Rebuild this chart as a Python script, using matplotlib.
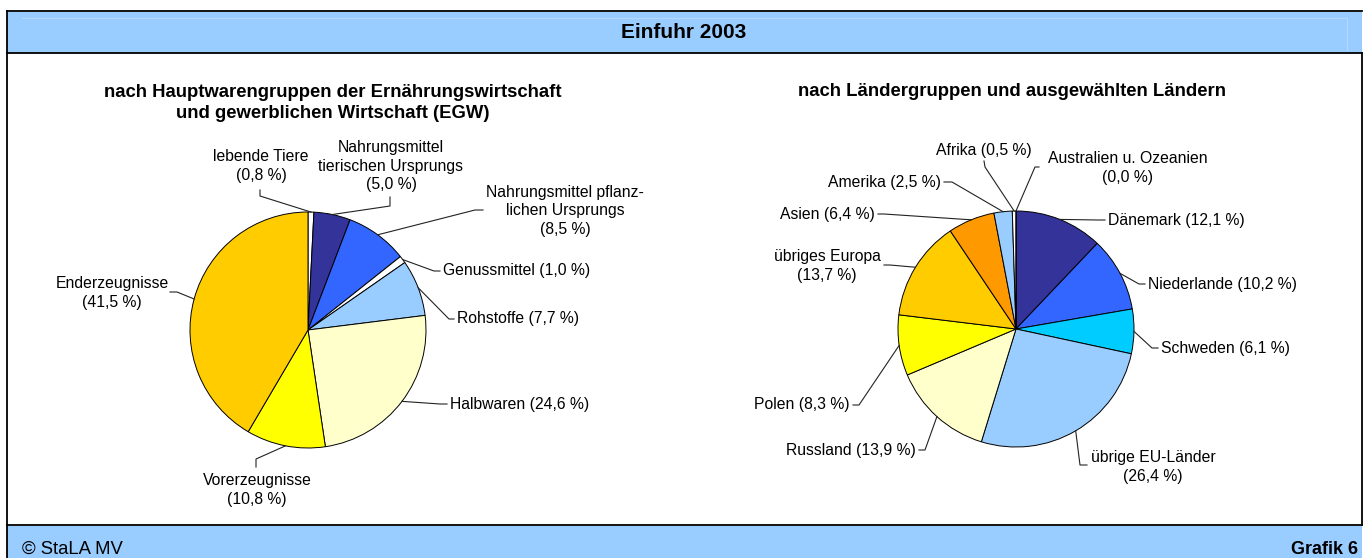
import numpy as np
import matplotlib.pyplot as plt
from matplotlib.patches import Rectangle

plt.rcParams['font.family'] = ['Liberation Sans', 'DejaVu Sans']

W, H = 1366, 558

# linke Grafik: Hauptwarengruppen der EGW
waren_namen = ['lebende Tiere\n', 'Nahrungsmittel\ntierischen Ursprungs\n',
               'Nahrungsmittel pflanz-\nlichen Ursprungs\n', 'Genussmittel ',
               'Rohstoffe ', 'Halbwaren ', 'Vorerzeugnisse\n', 'Enderzeugnisse\n']
waren_werte = [0.8, 5.0, 8.5, 1.0, 7.7, 24.6, 10.8, 41.5]
waren_farben = ['#FFFFFF', '#333399', '#3366FF', '#FFFFFF',
                '#99CCFF', '#FFFFCC', '#FFFF00', '#FFCC00']

# rechte Grafik: Ländergruppen und ausgewählte Länder
laender_namen = ['Dänemark ', 'Niederlande ', 'Schweden ', 'übrige EU-Länder\n',
                 'Russland ', 'Polen ', 'übriges Europa\n', 'Asien ', 'Amerika ',
                 'Afrika ', 'Australien u. Ozeanien\n']
laender_werte = [12.1, 10.2, 6.1, 26.4, 13.9, 8.3, 13.7, 6.4, 2.5, 0.5, 0.0]
laender_farben = ['#333399', '#3366FF', '#00CCFF', '#99CCFF', '#FFFFCC', '#FFFF00',
                  '#FFCC00', '#FF9900', '#99CCFF', '#FFFFFF', '#FFFFFF']

# Beschriftung: Textposition, Ausrichtung, Ende der Führungslinie, Knick
waren_pos = [((261, 166), 'center', (260, 190), (260, 196)),
             ((391, 166), 'center', (390, 197), (390, 206)),
             ((565, 211), 'center', (483, 210), (475, 210)),
             ((443, 271), 'left', (440, 271), (434, 271)),
             ((457, 319), 'left', (454, 319), (449, 319)),
             ((450, 404), 'left', (447, 404), (440, 404)),
             ((257, 490), 'center', (256, 467), (256, 459)),
             ((112, 293), 'center', (170, 292), (177, 292))]

laender_pos = [((1108, 220), 'left', (1105, 220), (1098, 220)),
               ((1148, 284), 'left', (1145, 284), (1139, 284)),
               ((1161, 348), 'left', (1158, 348), (1152, 348)),
               ((1153, 467), 'center', (1087, 465), (1080, 465)),
               ((916, 450), 'right', (919, 450), (925, 450)),
               ((850, 405), 'right', (853, 405), (859, 405)),
               ((827, 266), 'center', (884, 265), (890, 265)),
               ((875, 214), 'right', (878, 214), (884, 214)),
               ((941, 182), 'right', (944, 182), (952, 182)),
               ((984, 150), 'center', (984, 161), (985, 167)),
               ((1128, 168), 'center', (1039, 167), (1035, 167))]


def fmt(v):
    return ('%.1f' % v).replace('.', ',')


fig = plt.figure(figsize=(W / 100, H / 100), dpi=100)
ax = fig.add_axes([0, 0, 1, 1])


def kuchen(namen, werte, farben, pos, cx, cy, r):
    ax.pie(werte, colors=farben, startangle=90, counterclock=False,
           center=(cx, H - cy), radius=r, frame=True,
           wedgeprops=dict(edgecolor='black', linewidth=0.7))
    werte = np.array(werte)
    mitte = (np.cumsum(werte) - werte / 2) / werte.sum() * 2 * np.pi
    for name, v, m, p in zip(namen, werte, mitte, pos):
        (tx, ty), ha, (axx, ayy), (ex, ey) = p
        px = cx + r * np.sin(m)
        py = H - cy + r * np.cos(m)
        ax.plot([px, ex, axx], [py, H - ey, H - ayy], color='#222222', lw=0.8)
        ax.text(tx, H - ty, name + '(' + fmt(v) + ' %)', ha=ha, va='center',
                multialignment='center', fontsize=11.3, linespacing=1.3)


kuchen(waren_namen, waren_werte, waren_farben, waren_pos, 308, 330, 118)
kuchen(laender_namen, laender_werte, laender_farben, laender_pos, 1016, 329, 118)

# Rahmen, Kopf- und Fußzeile
ax.add_patch(Rectangle((7, H - 53), 1355, 41, facecolor='#99CCFF', edgecolor='none'))
ax.add_patch(Rectangle((7, 0), 1355, H - 526, facecolor='#99CCFF', edgecolor='none'))
ax.plot([22, 1347], [H - 18, H - 18], color='#B3D9FF', lw=0.8)
ax.plot([1347, 1347], [H - 18, H - 50], color='#B3D9FF', lw=0.8)
ax.plot([7, 1362], [H - 11, H - 11], color='black', lw=1.3)
ax.plot([7, 1362], [H - 53, H - 53], color='black', lw=1.3)
ax.plot([7, 1362], [H - 525, H - 525], color='black', lw=1.3)
ax.plot([7, 7], [0, H - 11], color='black', lw=1.3)
ax.plot([1361.5, 1361.5], [H - 525, H - 53], color='black', lw=1.3)

ax.text(684, H - 33, 'Einfuhr 2003', ha='center', va='center',
        fontsize=15, fontweight='bold')
ax.text(333, H - 103, 'nach Hauptwarengruppen der Ernährungswirtschaft\nund gewerblichen Wirtschaft (EGW)',
        ha='center', va='center', fontsize=13.3, fontweight='bold', linespacing=1.25)
ax.text(1012, H - 92, 'nach Ländergruppen und ausgewählten Ländern',
        ha='center', va='center', fontsize=13.3, fontweight='bold')
ax.text(22, H - 549, '© StaLA MV', ha='left', va='center', fontsize=13.3)
ax.text(1358, H - 549, 'Grafik 6', ha='right', va='center', fontsize=13, fontweight='bold')

ax.set_xlim(0, W)
ax.set_ylim(0, H)
ax.axis('off')

plt.savefig('out.png', dpi=100)
